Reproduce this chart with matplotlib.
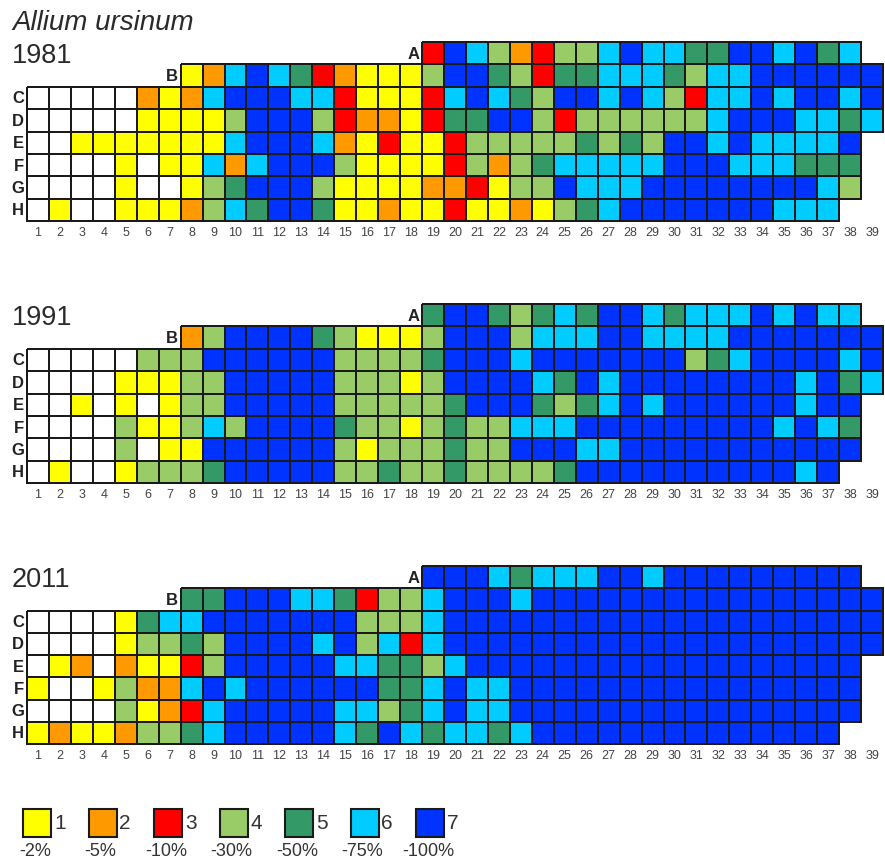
import numpy as np
import matplotlib.pyplot as plt
from matplotlib.colors import ListedColormap
from matplotlib.patches import Rectangle

plt.rcParams['font.family'] = ['Liberation Sans', 'DejaVu Sans']

# 0 = empty (white), 1..7 = damage classes
colours = ['#ffffff', '#ffff00', '#ff9900', '#ff0000', '#99cc66',
           '#339966', '#00ccff', '#0033ff']
class_names = ['1', '2', '3', '4', '5', '6', '7']
class_loss = ['-2%', '-5%', '-10%', '-30%', '-50%', '-75%', '-100%']

row_names = ['A', 'B', 'C', 'D', 'E', 'F', 'G', 'H']
row_start = [19, 8, 1, 1, 1, 1, 1, 1]
columns = list(range(1, 40))

years = ['1981', '1991', '2011']

grid_1981 = [
    '37642344676655776756',
    '12676532111477543556665466777777',
    '0000021267776631113' '67654776764366767767',
    '0000011114777432213' '55774344444467776656',
    '0011111116777621311' '3444445454776766667',
    '0000101162677741111' '3424566666777666555',
    '0000100145777411112' '2314476667777777764',
    '0100111246577511211' '311214567777777666',
]

grid_1991 = [
    '57754565776566676766',
    '247777541114' '77746667766667777777',
    '0000044477777744445' '77767777777456777767',
    '0000111447777744414' '77776576777777776756',
    '0010101447777744444' '5777545676777777677',
    '0000411464777754414' '5446667777777776765',
    '0000401177777741444' '5447776677777777777',
    '0100144457777744544' '544445777777777767',
]

grid_2011 = [
    '77765666776777777777',
    '557776653446' '7776' '7777777777777777',
    '0000156677777774446' '77777777777777777777',
    '0000144547777674636' '77777777777777777777',
    '0120211347777766554' '6' '777777777777777777',
    '1001422676777777556' '766' '7777777777777777',
    '0000412367777766456' '766' '7777777777777777',
    '1211244567777765765' '6656' '77777777777777',
]

grids = [grid_1981, grid_1991, grid_2011]

W, H = 885, 862
fig = plt.figure(figsize=(W / 100, H / 100), dpi=100)
cmap = ListedColormap(colours)

panel_top = [43, 305, 567]
panel_bottom = [222, 484, 745]
left_px, right_px = 27, 883

fig.text(12 / W, 1 - 30 / H, 'Allium ursinum', fontsize=20, style='italic',
         color='#2a2a2a', ha='left', va='baseline')

for year, grid, top, bot in zip(years, grids, panel_top, panel_bottom):
    ax = fig.add_axes([left_px / W, 1 - bot / H, (right_px - left_px) / W, (bot - top) / H])
    # one mesh per row so only existing plots get cells and borders
    for r, line in enumerate(grid):
        vals = np.array([[int(ch) for ch in line]])
        s = row_start[r]
        xe = np.arange(s, s + len(line) + 1) - 0.5
        ye = np.array([r - 0.5, r + 0.5])
        mesh = ax.pcolormesh(xe, ye, vals, cmap=cmap, vmin=-0.5, vmax=7.5,
                             edgecolors='#1a1a1a', linewidth=1.3)
        mesh.set_clip_on(False)
    ax.set_xlim(0.5, len(columns) + 0.5)
    ax.set_ylim(len(row_names) - 0.5, -0.5)
    ax.axis('off')

    for r, name in enumerate(row_names):
        ax.text(row_start[r] - 0.62, r, name, ha='right', va='center',
                fontsize=12, fontweight='bold', color='#222222')
    for c in columns:
        ax.text(c, 8.0, str(c), ha='center', va='center', fontsize=9, color='#444444')
    ax.text(-0.18, 0.4, year, ha='left', va='baseline', fontsize=19.5, color='#2a2a2a')

# legend
sq_x0, sq_dx, sq_w, sq_h = 23, 65.5, 28, 28
sq_y = 810
for i, (nm, loss) in enumerate(zip(class_names, class_loss)):
    x = sq_x0 + i * sq_dx
    fig.patches.append(Rectangle((x / W, 1 - (sq_y + sq_h) / H), sq_w / W, sq_h / H,
                                 transform=fig.transFigure, facecolor=colours[i + 1],
                                 edgecolor='#1a1a1a', linewidth=1.5))
    fig.text((x + sq_w + 3) / W, 1 - (sq_y + sq_h / 2) / H, nm, fontsize=15,
             color='#333333', ha='left', va='center')
    fig.text((x + 12) / W, 1 - 852 / H, loss, fontsize=13,
             color='#333333', ha='center', va='center')

fig.savefig('out.png', dpi=100)
